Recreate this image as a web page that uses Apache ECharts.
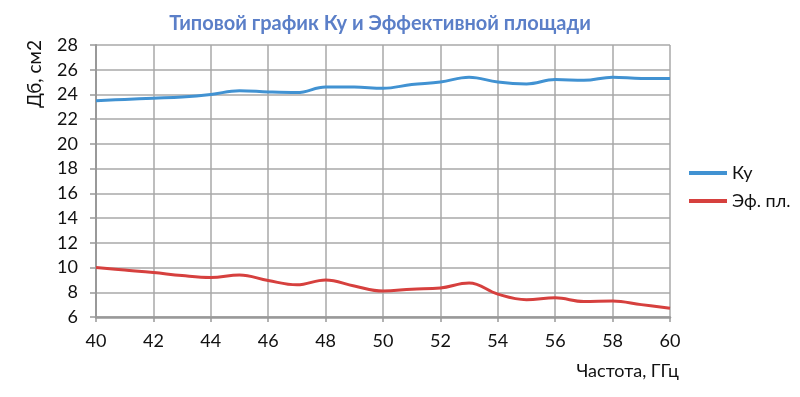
<!DOCTYPE html>
<html>
<head>
<meta charset="utf-8">
<script src="https://cdn.jsdelivr.net/npm/echarts@6/dist/echarts.min.js"></script>
<style>
  html, body { margin: 0; padding: 0; background: #fff; }
  #main { width: 800px; height: 397px; }
</style>
</head>
<body>
<div id="main"></div>
<script>
// частота, ГГц
const freq = [40, 41, 42, 43, 44, 45, 46, 47, 48, 49, 50, 51, 52, 53, 54, 55, 56, 57, 58, 59, 60];
// Ку, дБ
const kuValues = [23.5, 23.6, 23.7, 23.8, 24.0, 24.3, 24.2, 24.15, 24.6, 24.6, 24.5, 24.8, 25.0, 25.4, 25.0, 24.85, 25.2, 25.15, 25.4, 25.3, 25.3];
// эффективная площадь, см2
const areaValues = [10.0, 9.8, 9.6, 9.35, 9.2, 9.4, 8.95, 8.6, 9.0, 8.5, 8.1, 8.25, 8.35, 8.75, 7.85, 7.4, 7.55, 7.25, 7.3, 7.0, 6.7];
const seriesNames = ['Ку', 'Эф. пл.'];

const textColor = '#111';
const gridColor = '#a8a8a8';
const font = 'Lato';

let myChart = echarts.init(document.getElementById('main'));
let option = {
  animation: false,
  title: {
    text: 'Типовой график Ку и Эффективной площади',
    left: 375,
    top: 9,
    textAlign: 'center',
    textStyle: {
      fontFamily: font,
      fontSize: 20,
      fontWeight: 'bold',
      color: '#5B7FC8'
    }
  },
  legend: {
    orient: 'vertical',
    left: 684,
    top: 159,
    itemWidth: 38,
    itemHeight: 4,
    itemGap: 10,
    icon: 'rect',
    data: seriesNames,
    textStyle: { fontSize: 18, color: textColor, fontFamily: font }
  },
  grid: { left: 96, right: 130, top: 45, bottom: 80 },
  xAxis: {
    type: 'value',
    min: 40,
    max: 60,
    interval: 2,
    axisLine: { lineStyle: { color: '#999', width: 2.5 } },
    axisTick: { show: true, length: 5, lineStyle: { color: '#999', width: 1.5 } },
    axisLabel: { fontSize: 18, color: textColor, margin: 15, fontFamily: font },
    splitLine: { show: true, lineStyle: { color: gridColor, width: 1.5 } }
  },
  yAxis: {
    type: 'value',
    min: 6,
    max: 28,
    interval: 2,
    axisLine: { show: true, lineStyle: { color: '#999', width: 2 } },
    axisTick: { show: true, length: 6, lineStyle: { color: '#999', width: 1.5 } },
    axisLabel: { fontSize: 18, color: textColor, margin: 18, fontFamily: font },
    splitLine: { show: true, lineStyle: { color: gridColor, width: 1.5 } }
  },
  graphic: [
    {
      type: 'text',
      x: 35,
      y: 74,
      rotation: Math.PI / 2,
      style: {
        text: 'Дб, см2',
        fontSize: 19,
        fontFamily: font,
        fill: textColor,
        align: 'center',
        verticalAlign: 'middle'
      }
    },
    {
      type: 'text',
      x: 679,
      y: 371,
      style: {
        text: 'Частота, ГГц',
        fontSize: 18,
        fontFamily: font,
        fill: textColor,
        align: 'right',
        verticalAlign: 'middle'
      }
    }
  ],
  series: [
    {
      name: seriesNames[0],
      type: 'line',
      smooth: 0.4,
      symbol: 'none',
      data: freq.map((f, i) => [f, kuValues[i]]),
      lineStyle: { width: 3, color: '#4192D2' },
      itemStyle: { color: '#4192D2' }
    },
    {
      name: seriesNames[1],
      type: 'line',
      smooth: 0.4,
      symbol: 'none',
      data: freq.map((f, i) => [f, areaValues[i]]),
      lineStyle: { width: 3, color: '#D6403E' },
      itemStyle: { color: '#D6403E' }
    }
  ]
};
myChart.setOption(option);
window.onresize = myChart.resize;
</script>
</body>
</html>
